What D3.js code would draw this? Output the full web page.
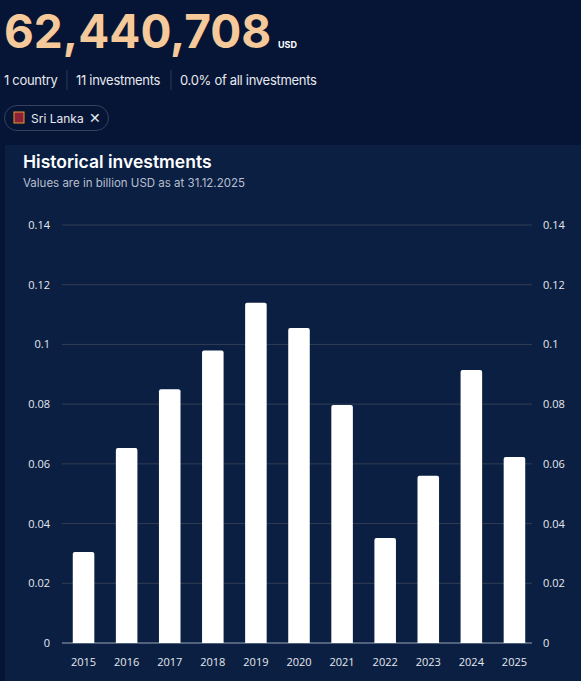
<!DOCTYPE html>
<html><head><meta charset="utf-8">
<script src="https://cdn.jsdelivr.net/npm/d3@7/dist/d3.min.js"></script>
<style>
body{margin:0;background:#061535;font-family:Inter,"Noto Sans",sans-serif;overflow:hidden}
</style></head><body>
<svg id="c" width="581" height="681"></svg>
<script>
const years=["2015","2016","2017","2018","2019","2020","2021","2022","2023","2024","2025"];
const values=[0.0305,0.0653,0.085,0.098,0.114,0.1055,0.0797,0.0352,0.056,0.0914,0.0623];
const ticks=[0,0.02,0.04,0.06,0.08,0.1,0.12,0.14];
const svg=d3.select("#c");
svg.append("rect").attr("width",581).attr("height",681).attr("fill","#061535");
svg.append("text").attr("x",4).attr("y",48).attr("fill","#f5c99a").attr("font-size",46).attr("font-weight",700).text("62,440,708");
svg.append("text").attr("x",278).attr("y",48).attr("fill","#fff").attr("font-size",9).attr("font-weight",700).text("USD");
const info=[["1 country",4],["11 investments",76],["0.0% of all investments",180]];
info.forEach(d=>svg.append("text").attr("x",d[1]).attr("y",85).attr("fill","#e6e9f0").attr("font-size",13).attr("letter-spacing",-0.3).text(d[0]));
[67,171].forEach(x=>svg.append("line").attr("x1",x).attr("x2",x).attr("y1",70).attr("y2",90).attr("stroke","#2d3b5a"));
svg.append("rect").attr("x",4.5).attr("y",105.5).attr("width",104).attr("height",25).attr("rx",12.5).attr("fill","none").attr("stroke","#34425f");
svg.append("rect").attr("x",14).attr("y",112).attr("width",10).attr("height",11).attr("fill","#8d2035").attr("stroke","#e39b2a");
svg.append("text").attr("x",31).attr("y",123).attr("fill","#e6e9f0").attr("font-size",12).text("Sri Lanka");
svg.append("text").attr("x",89).attr("y",123).attr("fill","#e6e9f0").attr("font-size",14).text("✕");
svg.append("rect").attr("x",5).attr("y",145).attr("width",576).attr("height",536).attr("fill","#0b1f42");
svg.append("text").attr("x",23).attr("y",168).attr("fill","#fff").attr("font-size",17.5).attr("font-weight",600).text("Historical investments");
svg.append("text").attr("x",23).attr("y",187).attr("fill","#b7bfcf").attr("font-size",11.5).text("Values are in billion USD as at 31.12.2025");
const x=d3.scaleBand().domain(years).range([62,536]).paddingInner(0.5).paddingOuter(0.25);
const y=d3.scaleLinear().domain([0,0.14]).range([643,225]);
const g=svg.append("g");
ticks.forEach(t=>{
 g.append("line").attr("x1",62).attr("x2",532).attr("y1",y(t)).attr("y2",y(t)).attr("stroke",t===0?"#9aa3b5":"#3a4658").attr("stroke-width",t===0?1.2:0.8);
 g.append("text").attr("x",50).attr("y",y(t)+4).attr("text-anchor","end").attr("fill","#e6e9f0").attr("font-size",11).attr("font-family","'Open Sans',sans-serif").text(String(t));
 g.append("text").attr("x",543).attr("y",y(t)+4).attr("fill","#e6e9f0").attr("font-size",11).attr("font-family","'Open Sans',sans-serif").text(String(t));
});
g.selectAll("path.bar").data(values).join("path").attr("fill","#fff").attr("d",(v,i)=>{
 const x0=x(years[i]),w=x.bandwidth(),y0=y(v),y1=y(0),r=2;
 return `M${x0},${y1}V${y0+r}Q${x0},${y0} ${x0+r},${y0}H${x0+w-r}Q${x0+w},${y0} ${x0+w},${y0+r}V${y1}Z`;
});
g.selectAll("text.yr").data(years).join("text").attr("x",d=>x(d)+x.bandwidth()/2).attr("y",666).attr("text-anchor","middle").attr("fill","#e6e9f0").attr("font-size",11).attr("font-family","'Open Sans',sans-serif").text(d=>d);
</script></body></html>
